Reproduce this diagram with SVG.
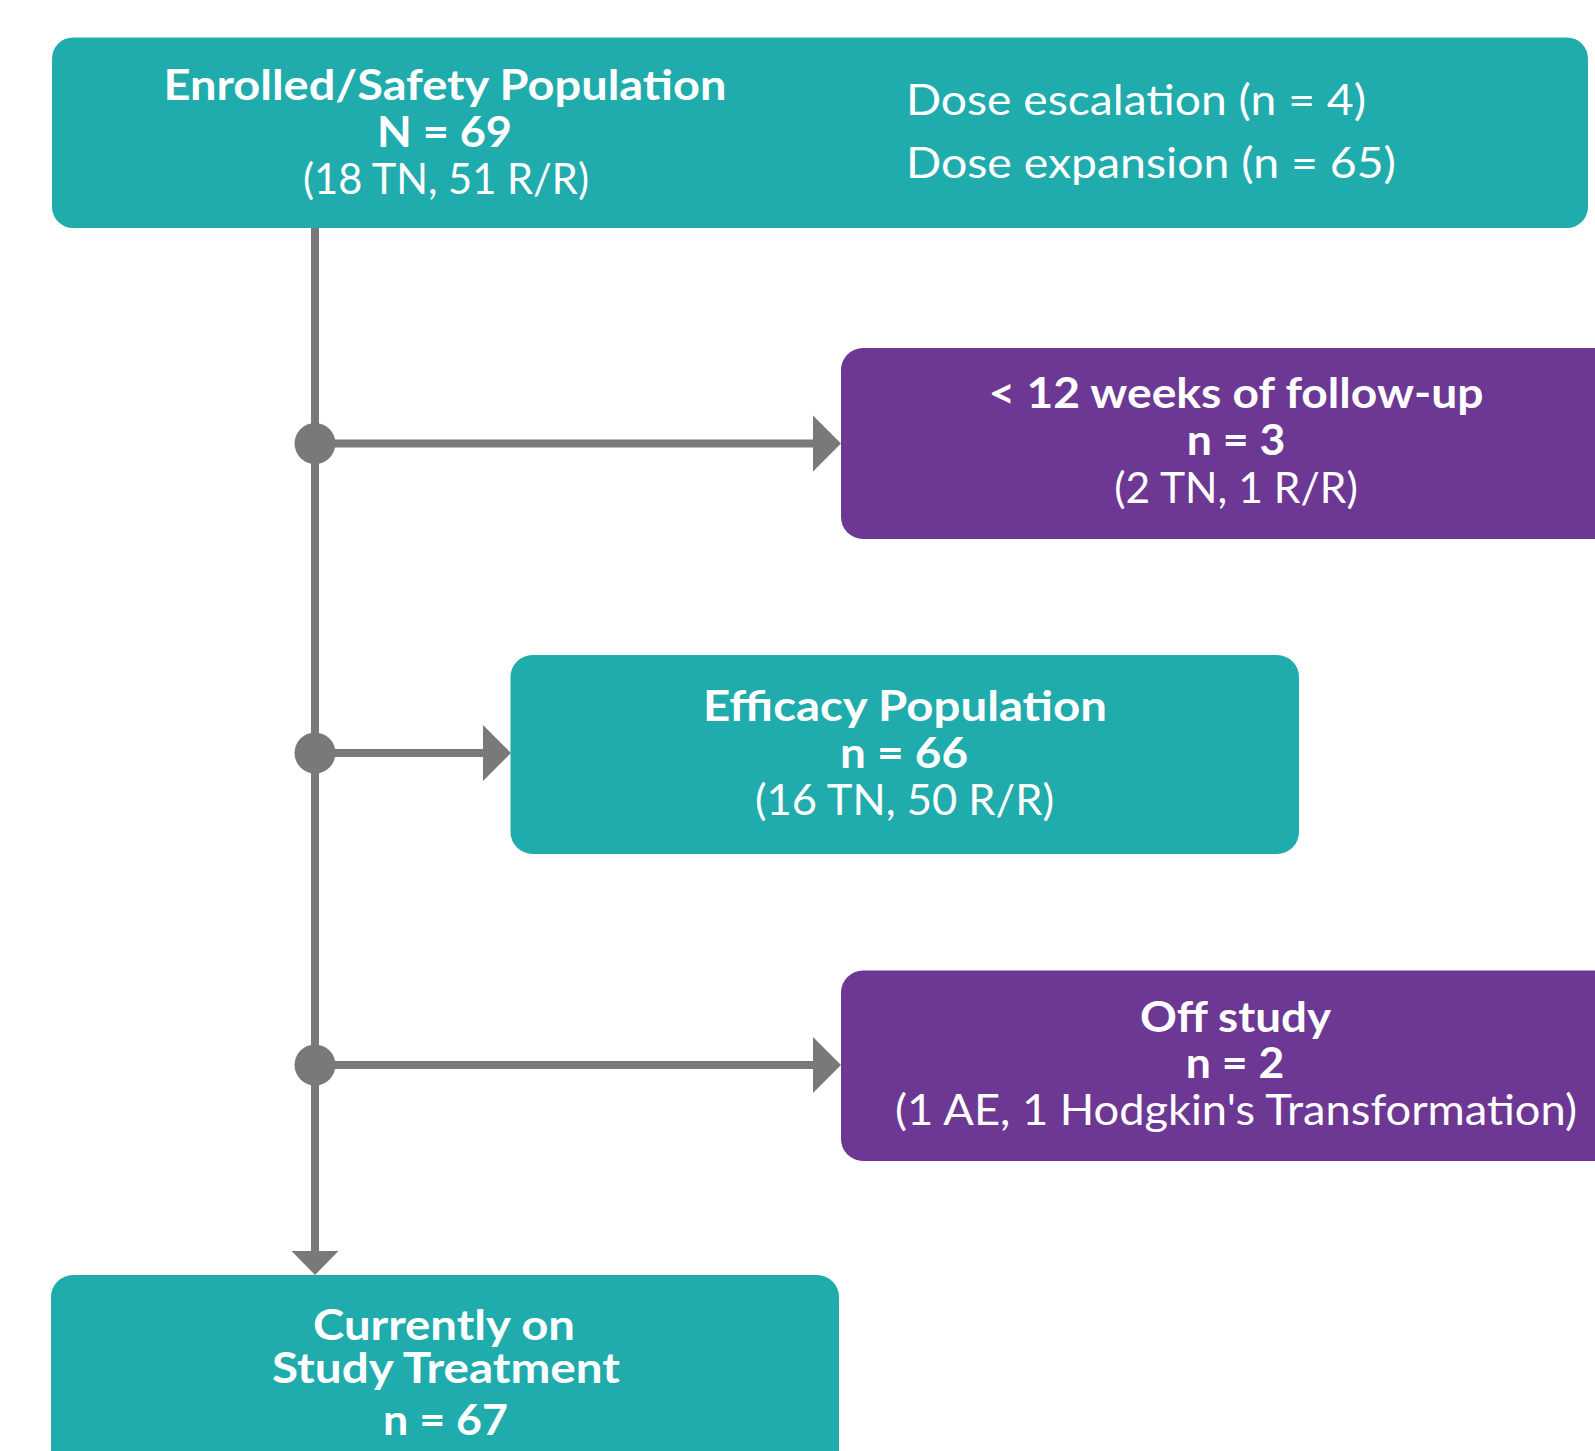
<svg xmlns="http://www.w3.org/2000/svg" width="1595" height="1451" viewBox="0 0 1595 1451">
<style>
.teal{fill:#20ABAD}
.purple{fill:#6D3894}
.b{font-family:Lato,"Liberation Sans",sans-serif;font-weight:700;font-size:42px;fill:#fff;text-anchor:middle}
.r{font-family:Lato,"Liberation Sans",sans-serif;font-weight:400;font-size:43px;fill:#fff;text-anchor:middle}
.rl{font-family:Lato,"Liberation Sans",sans-serif;font-weight:400;font-size:43px;fill:#fff}
.ln{stroke:#797978;stroke-width:8;fill:none}
.hd{fill:#797978}
</style>
<rect width="1595" height="1451" fill="#fff"/>
<g id="connectors">
<line class="ln" x1="315" y1="226" x2="315" y2="1252"/>
<line class="ln" x1="315" y1="443.5" x2="815" y2="443.5"/>
<polygon class="hd" points="813,415.5 841,443.5 813,471.5"/>
<line class="ln" x1="315" y1="753" x2="485" y2="753"/>
<polygon class="hd" points="483,725 511,753 483,781"/>
<line class="ln" x1="315" y1="1065" x2="815" y2="1065"/>
<polygon class="hd" points="813,1037 841,1065 813,1093"/>
<polygon class="hd" points="291.5,1251 338.5,1251 315,1275"/>
<circle class="hd" cx="315" cy="443.5" r="20.5"/>
<circle class="hd" cx="315" cy="753" r="20.5"/>
<circle class="hd" cx="315" cy="1065" r="20.5"/>
</g>
<g id="enrolled">
<rect class="teal" x="52" y="37.5" width="1536" height="190.5" rx="21"/>
<text class="b" x="445" y="100" textLength="563" lengthAdjust="spacingAndGlyphs">Enrolled/Safety Population</text>
<text class="b" x="444.5" y="146.7" textLength="135" lengthAdjust="spacingAndGlyphs">N = 69</text>
<text class="r" x="446" y="194" textLength="286" lengthAdjust="spacingAndGlyphs">(18 TN, 51 R/R)</text>
<text class="rl" x="906" y="115" textLength="460" lengthAdjust="spacingAndGlyphs">Dose escalation (n = 4)</text>
<text class="rl" x="906" y="178" textLength="490" lengthAdjust="spacingAndGlyphs">Dose expansion (n = 65)</text>
</g>
<g id="followup">
<rect class="purple" x="841" y="348" width="800" height="191" rx="22"/>
<text class="b" x="1236" y="408" textLength="495" lengthAdjust="spacingAndGlyphs">&lt; 12 weeks of follow-up</text>
<text class="b" x="1236" y="455" textLength="98.5" lengthAdjust="spacingAndGlyphs">n = 3</text>
<text class="r" x="1236" y="502.7" textLength="243.6" lengthAdjust="spacingAndGlyphs">(2 TN, 1 R/R)</text>
</g>
<g id="efficacy">
<rect class="teal" x="510.5" y="655" width="788.5" height="199" rx="22"/>
<text class="b" x="905" y="721" textLength="404" lengthAdjust="spacingAndGlyphs">Efficacy Population</text>
<text class="b" x="904" y="768" textLength="128" lengthAdjust="spacingAndGlyphs">n = 66</text>
<text class="r" x="904.5" y="815" textLength="299" lengthAdjust="spacingAndGlyphs">(16 TN, 50 R/R)</text>
</g>
<g id="offstudy">
<rect class="purple" x="841" y="970.5" width="800" height="190.5" rx="22"/>
<text class="b" x="1235.5" y="1031.7" textLength="191" lengthAdjust="spacingAndGlyphs">Off study</text>
<text class="b" x="1235" y="1078" textLength="98.5" lengthAdjust="spacingAndGlyphs">n = 2</text>
<text class="r" x="1236" y="1125" textLength="682" lengthAdjust="spacingAndGlyphs">(1 AE, 1 Hodgkin's Transformation)</text>
</g>
<g id="current">
<rect class="teal" x="51" y="1275" width="788" height="200" rx="22"/>
<text class="b" x="444" y="1340" textLength="262" lengthAdjust="spacingAndGlyphs">Currently on</text>
<text class="b" x="446" y="1383" textLength="348" lengthAdjust="spacingAndGlyphs">Study Treatment</text>
<text class="b" x="445.5" y="1435" textLength="125" lengthAdjust="spacingAndGlyphs">n = 67</text>
</g>
</svg>
